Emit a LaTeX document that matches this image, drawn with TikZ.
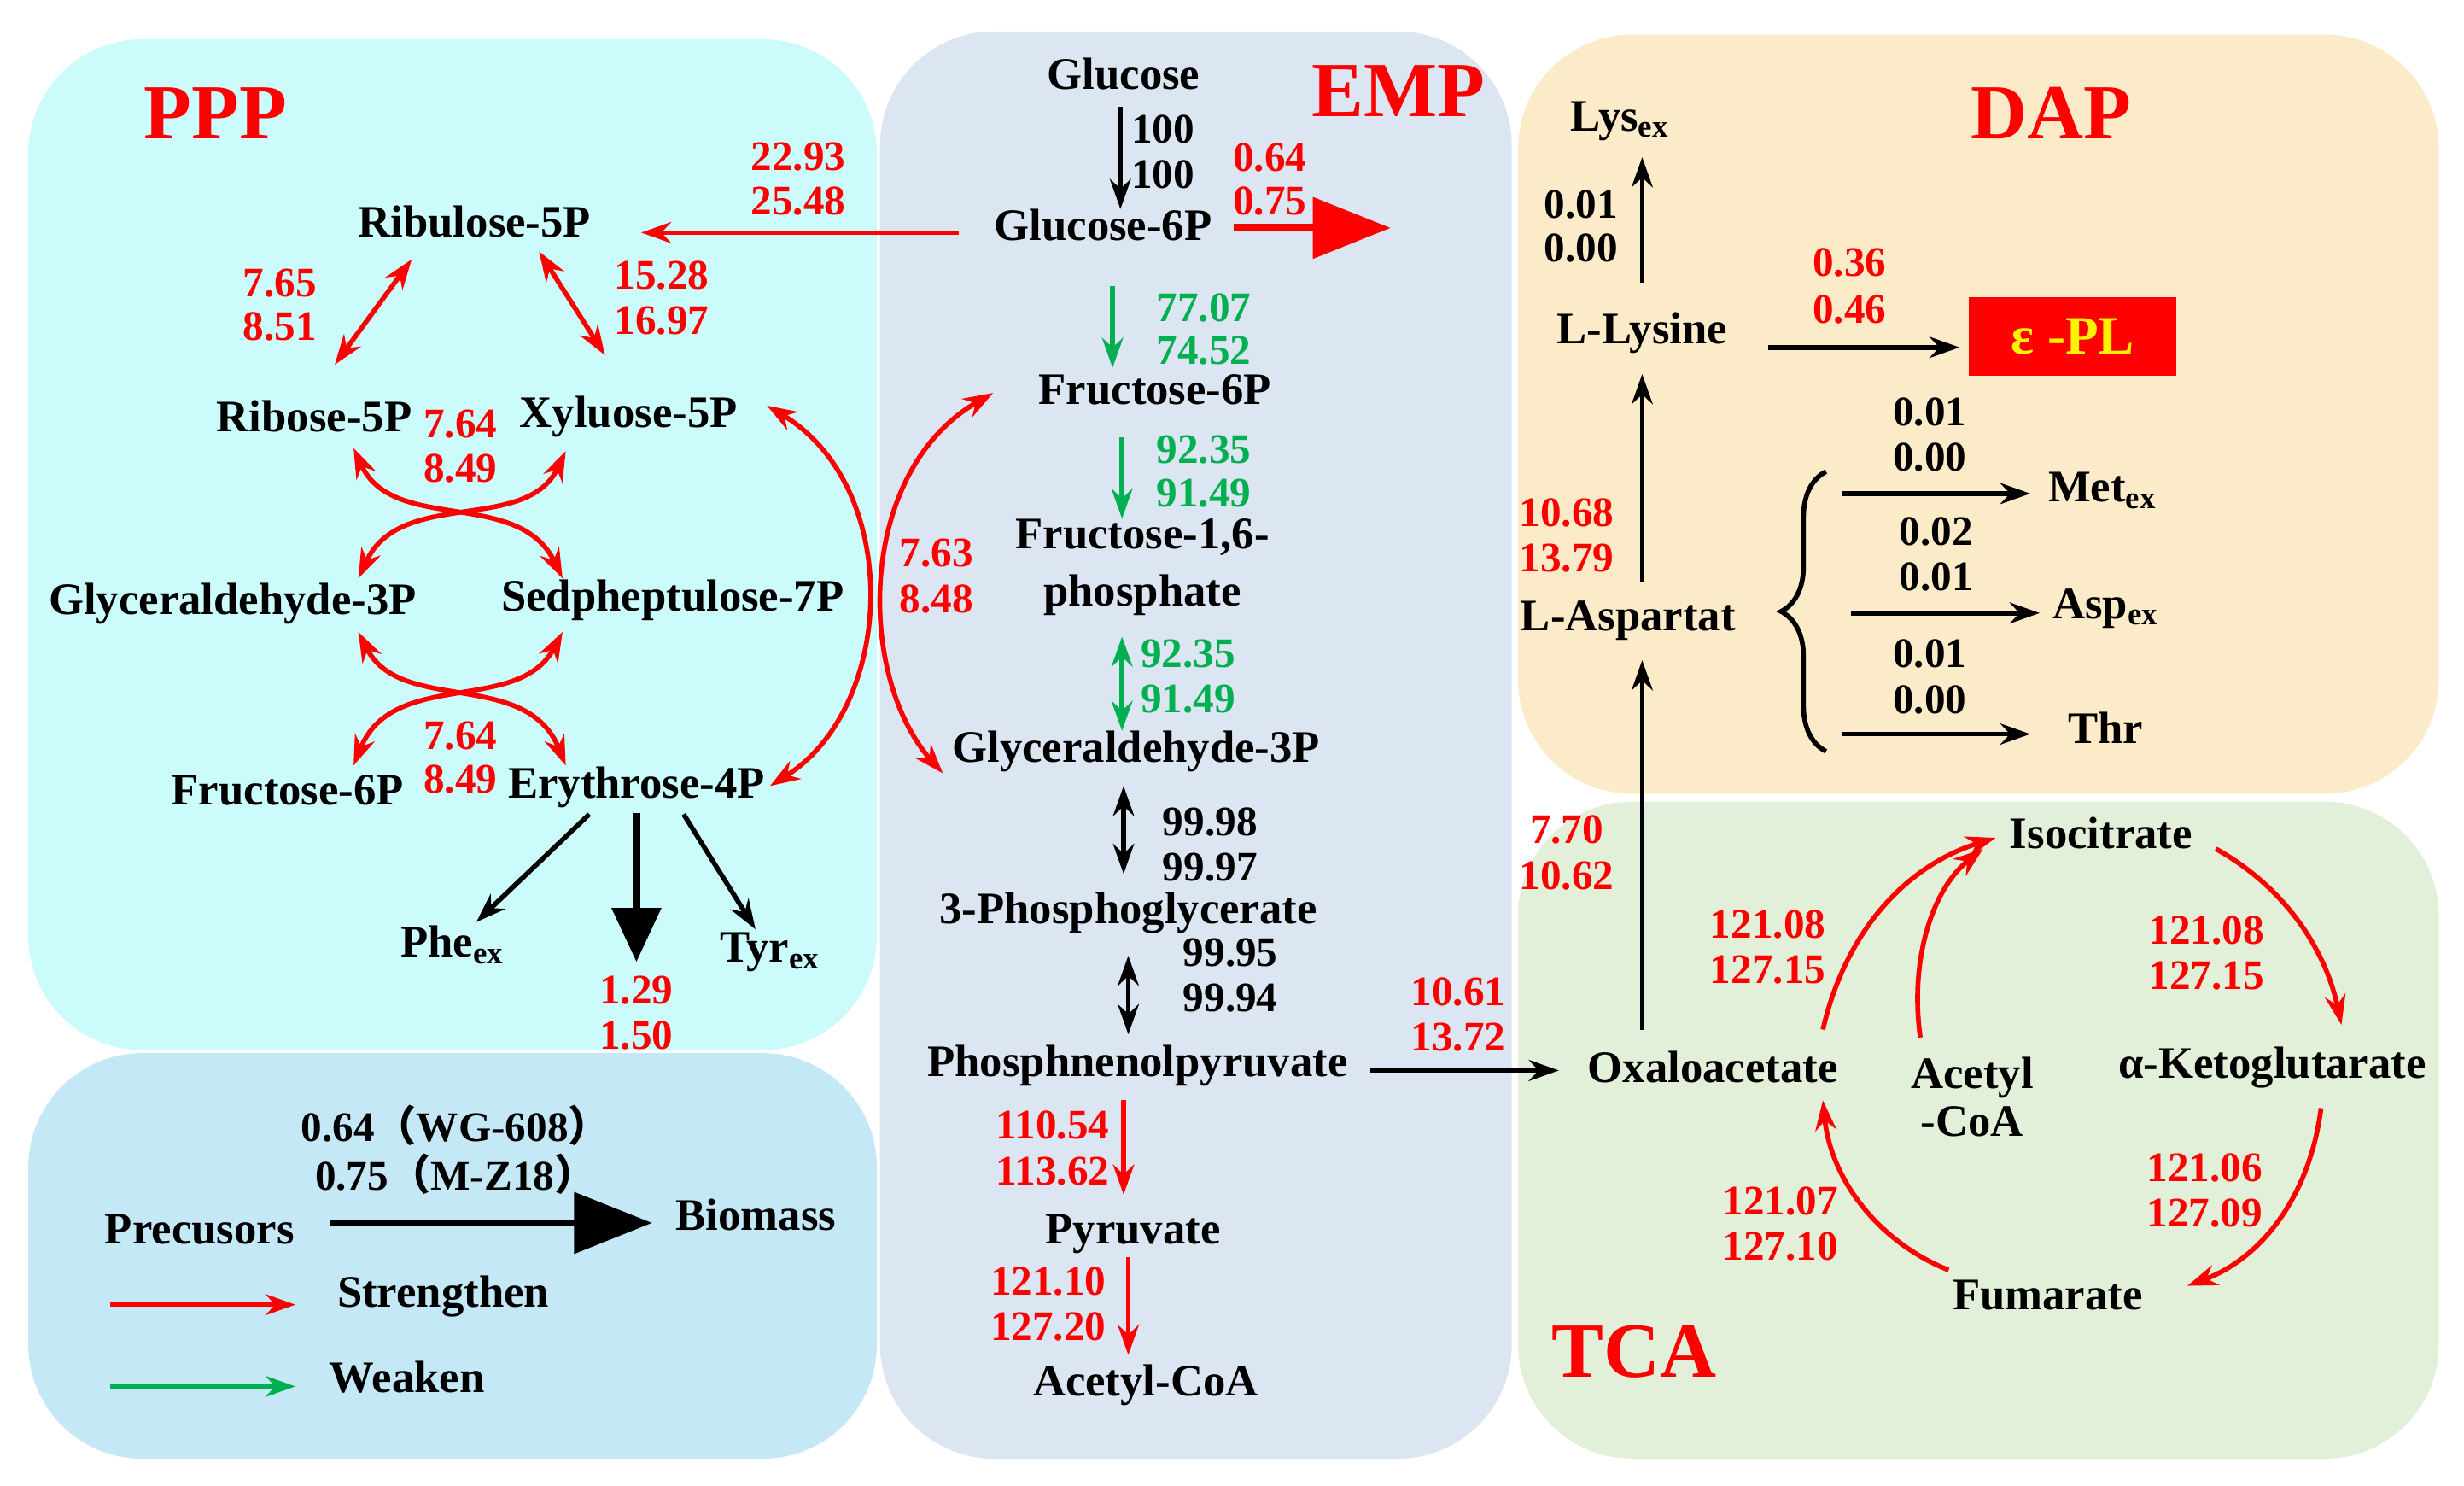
\documentclass[tikz,border=0pt]{standalone}
\usepackage{fontspec}
\setmainfont{Liberation Serif}
\newfontfamily\cjk{Noto Sans CJK SC}
\usetikzlibrary{arrows.meta,decorations.pathreplacing}
\definecolor{pppbg}{RGB}{204,251,252}
\definecolor{legbg}{RGB}{197,232,246}
\definecolor{empbg}{RGB}{220,230,242}
\definecolor{dapbg}{RGB}{252,235,200}
\definecolor{tcabg}{RGB}{226,239,217}
\definecolor{wgreen}{RGB}{0,176,80}
\tikzset{
  lbl/.style={font=\fontsize{15}{16}\selectfont\bfseries, inner sep=1pt},
  num/.style={font=\fontsize{14}{15}\selectfont\bfseries, inner sep=0pt},
  rnum/.style={num, text=red},
  gnum/.style={num, text=wgreen},
  head/.style={font=\fontsize{26}{28}\selectfont\bfseries, text=red},
  panel/.style={rounded corners=38pt, draw=none},
  blk/.style={-{Stealth[length=10pt,width=7pt]}, line width=1.6pt},
  red/.style={blk, draw=red},
  grn/.style={blk, draw=wgreen},
  dbl/.style={{Stealth[length=10pt,width=7pt]}-{Stealth[length=10pt,width=7pt]}, line width=1.6pt},
}
\begin{document}
\begin{tikzpicture}[x=0.0184cm, y=-0.0184cm]
    \useasboundingbox (0,0) rectangle (1568,945);
    % panels
    \fill [panel, pppbg] (18,25) rectangle (558,668);
    \fill [panel, legbg] (18,670) rectangle (558,928);
    \fill [panel, empbg] (560,20) rectangle (962,928);
    \fill [panel, dapbg] (966,22) rectangle (1552,505);
    \fill [panel, tcabg] (966,510) rectangle (1552,928);
    \node [head] at (137,72) {PPP};
    \node [head] at (890,58) {EMP};
    \node [head] at (1305,72) {DAP};
    \node [head] at (1040,860) {TCA};

    % EMP
    \node [lbl] (glc) at (715,47) {Glucose};
    \node [lbl] (g6p) at (702,143) {Glucose-6P};
    \node [lbl] (f6p) at (735,248) {Fructose-6P};
    \node [lbl, align=center, font=\fontsize{15}{19}\selectfont\bfseries] (fbp) at (727,361) {Fructose-1,6-\\phosphate};
    \node [lbl] (gap) at (723,478) {Glyceraldehyde-3P};
    \node [lbl] (pga) at (718,581) {3-Phosphoglycerate};
    \node [lbl] (pep) at (724,678) {Phosphnenolpyruvate};
    \node [lbl] (pyr) at (721,785) {Pyruvate};
    \node [lbl] (acoa) at (729,881) {Acetyl-CoA};
    \coordinate (bio) at (885,145);
    \draw [blk] (713,68) -- (713,133);
    \node [num] at (740,82) {100}; \node [num] at (740,111) {100};
    \draw [red, line width=2.5pt, -{Triangle[length=26pt,width=20pt]}] (785,145) -- (bio);
    \node [rnum] at (808,100) {0.64}; \node [rnum] at (808,128) {0.75};
    \draw [grn] (708,182) -- (708,234);
    \node [gnum] at (766,196) {77.07}; \node [gnum] at (766,223) {74.52};
    \draw [grn] (714,278) -- (714,330);
    \node [gnum] at (766,286) {92.35}; \node [gnum] at (766,314) {91.49};
    \draw [dbl, draw=wgreen] (714,405) -- (714,465);
    \node [gnum] at (756,416) {92.35}; \node [gnum] at (756,445) {91.49};
    \draw [dbl] (715,500) -- (715,556);
    \node [num] at (770,523) {99.98}; \node [num] at (770,552) {99.97};
    \draw [dbl] (718,608) -- (718,658);
    \node [num] at (783,606) {99.95}; \node [num] at (783,635) {99.94};
    \draw [red] (715,700) -- (715,760);
    \node [rnum] at (670,716) {110.54}; \node [rnum] at (670,745) {113.62};
    \draw [red] (718,800) -- (718,862);
    \node [rnum] at (667,815) {121.10}; \node [rnum] at (667,844) {127.20};

    % PPP
    \node [lbl] (ru5p) at (302,141) {Ribulose-5P};
    \node [lbl] (r5p) at (200,265) {Ribose-5P};
    \node [lbl] (x5p) at (400,265) {Xyluose-5P};
    \node [lbl] (gap2) at (148,384) {Glyceraldehyde-3P};
    \node [lbl] (s7p) at (428,382) {Sedpheptulose-7P};
    \node [lbl] (f6p2) at (183,503) {Fructose-6P};
    \node [lbl] (e4p) at (405,501) {Erythrose-4P};
    \node [lbl] (phe) at (288,601) {Phe\textsubscript{ex}};
    \node [lbl] (tyr) at (490,606) {Tyr\textsubscript{ex}};
    \coordinate (e4pout) at (405,612);
    \draw [red] (610,148) -- (408,148);
    \node [rnum] at (508,100) {22.93}; \node [rnum] at (508,128) {25.48};
    \draw [dbl, draw=red] (213,232) -- (262,165);
    \node [rnum] at (178,180) {7.65}; \node [rnum] at (178,208) {8.51};
    \draw [dbl, draw=red] (343,160) -- (385,226);
    \node [rnum] at (421,175) {15.28}; \node [rnum] at (421,204) {16.97};
    \node [rnum] at (293,270) {7.64}; \node [rnum] at (293,298) {8.49};
    \draw [dbl, draw=red] (225,285) .. controls (250,340) and (330,310) .. (358,368);
    \draw [dbl, draw=red] (360,287) .. controls (335,340) and (255,310) .. (228,368);
    \draw [dbl, draw=red] (228,402) .. controls (255,455) and (335,425) .. (360,487);
    \draw [dbl, draw=red] (358,402) .. controls (330,455) and (250,425) .. (225,487);
    \node [rnum] at (293,468) {7.64}; \node [rnum] at (293,496) {8.49};
    \draw [dbl, draw=red] (488,258) .. controls (575,310) and (570,450) .. (490,500);
    \draw [dbl, draw=red] (632,250) .. controls (545,300) and (545,430) .. (600,492);
    \node [rnum] at (596,352) {7.63}; \node [rnum] at (596,381) {8.48};
    \draw [blk] (375,518) -- (phe);
    \draw [blk, line width=2.5pt, -{Triangle[length=18pt,width=16pt]}] (405,517) -- (e4pout);
    \draw [blk] (435,518) -- (tyr);
    \node [rnum] at (405,630) {1.29}; \node [rnum] at (405,659) {1.50};

    % legend
    \node [lbl] (pre) at (127,782) {Precusors};
    \node [lbl] (biom) at (481,773) {Biomass};
    \draw [blk, line width=2.5pt, -{Triangle[length=26pt,width=20pt]}] (210,778) -- (415,778);
    \node [num] at (290,716) {0.64{\cjk（}WG-608{\cjk）}};
    \node [num] at (290,747) {0.75{\cjk（}M-Z18{\cjk）}};
    \node [lbl] (str) at (282,825) {Strengthen};
    \node [lbl] (wea) at (259,876) {Weaken};
    \draw [red] (70,830) -- (188,830);
    \draw [grn] (70,882) -- (188,882);

    % DAP
    \node [lbl] (lysex) at (1031,77) {Lys\textsubscript{ex}};
    \node [lbl] (lys) at (1045,212) {L-Lysine};
    \node [lbl, fill=red, text=yellow, font=\fontsize{18}{19}\selectfont\bfseries, inner xsep=14pt, inner ysep=7pt] (epl) at (1319,214) {ε -PL};
    \coordinate (eplin) at (1247,221);
    \node [lbl] (asp) at (1036,395) {L-Aspartat};
    \node [lbl] (met) at (1338,312) {Met\textsubscript{ex}};
    \node [lbl] (aspex) at (1340,387) {Asp\textsubscript{ex}};
    \node [lbl] (thr) at (1340,463) {Thr};
    \draw [blk] (1045,180) -- (1045,100);
    \node [num] at (1006,130) {0.01}; \node [num] at (1006,158) {0.00};
    \draw [blk] (1125,221) -- (eplin);
    \node [rnum] at (1177,167) {0.36}; \node [rnum] at (1177,197) {0.46};
    \draw [blk] (1045,370) -- (1045,238);
    \node [rnum] at (997,326) {10.68}; \node [rnum] at (997,355) {13.79};
    \draw [line width=1.6pt, decorate, decoration={brace, amplitude=15pt}] (1162,478) -- (1162,300);
    \draw [blk] (1172,314) -- (1292,314);
    \node [num] at (1228,262) {0.01}; \node [num] at (1228,291) {0.00};
    \draw [blk] (1178,390) -- (1298,390);
    \node [num] at (1232,338) {0.02}; \node [num] at (1232,367) {0.01};
    \draw [blk] (1172,467) -- (1292,467);
    \node [num] at (1228,416) {0.01}; \node [num] at (1228,445) {0.00};

    % TCA
    \node [lbl] (oaa) at (1090,679) {Oxaloacetate};
    \node [lbl] (isc) at (1337,530) {Isocitrate};
    \node [lbl] (akg) at (1446,679) {α-Ketoglutarate};
    \node [lbl] (fum) at (1303,824) {Fumarate};
    \node [lbl, align=center] (acoa2) at (1255,698) {Acetyl\\-CoA};
    \coordinate (oaain) at (992,681);
    \draw [blk] (872,681) -- (oaain);
    \node [rnum] at (928,631) {10.61}; \node [rnum] at (928,660) {13.72};
    \draw [blk] (1045,655) -- (1045,420);
    \node [rnum] at (997,528) {7.70}; \node [rnum] at (997,557) {10.62};
    \draw [red] (1160,655) .. controls (1175,590) and (1215,550) .. (1270,533);
    \draw [red] (1222,660) .. controls (1215,610) and (1230,565) .. (1262,540);
    \node [rnum] at (1125,588) {121.08}; \node [rnum] at (1125,617) {127.15};
    \draw [red] (1410,540) .. controls (1455,565) and (1480,605) .. (1490,652);
    \node [rnum] at (1404,592) {121.08}; \node [rnum] at (1404,621) {127.15};
    \draw [red] (1477,705) .. controls (1470,760) and (1440,800) .. (1392,818);
    \node [rnum] at (1403,743) {121.06}; \node [rnum] at (1403,772) {127.09};
    \draw [red] (1240,808) .. controls (1195,790) and (1165,750) .. (1160,700);
    \node [rnum] at (1133,764) {121.07}; \node [rnum] at (1133,793) {127.10};
  \end{tikzpicture}
\end{document}
